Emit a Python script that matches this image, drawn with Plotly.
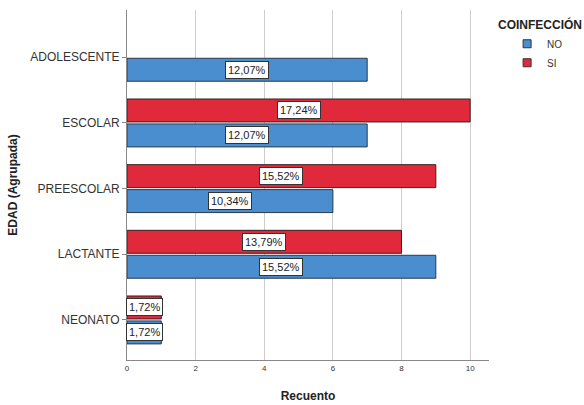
import plotly.graph_objects as go

# Age groups (bottom to top on the axis) and counts per coinfection status
categories = ["NEONATO", "LACTANTE", "PREESCOLAR", "ESCOLAR", "ADOLESCENTE"]
no_counts = [1, 9, 6, 7, 7]
si_counts = [1, 8, 9, 10, None]
no_labels = ["1,72%", "15,52%", "10,34%", "12,07%", "12,07%"]
si_labels = ["1,72%", "13,79%", "15,52%", "17,24%", None]
x_ticks = [0, 2, 4, 6, 8, 10]

BLUE = "#4a8ed0"
RED = "#e02a3b"
FONT = "Liberation Sans, Arial, sans-serif"

fig = go.Figure()
fig.add_trace(go.Bar(
    y=categories, x=no_counts, name="NO", orientation="h", showlegend=False,
    marker=dict(color=BLUE, line=dict(color="#2b3a4a", width=1)),
))
fig.add_trace(go.Bar(
    y=categories, x=si_counts, name="SI", orientation="h", showlegend=False,
    marker=dict(color=RED, line=dict(color="#3a2020", width=1)),
))

# Small square swatches for the legend
for name, col in (("NO", BLUE), ("SI", RED)):
    fig.add_trace(go.Scatter(
        x=[None], y=[None], mode="markers", name=name,
        marker=dict(symbol="square", size=8, color=col, line=dict(color="#333333", width=1)),
    ))

# Boxed percentage labels centred on each bar
annotations = []
for counts, labels, shift in ((no_counts, no_labels, -12.5), (si_counts, si_labels, 12.5)):
    for cat, v, lab in zip(categories, counts, labels):
        if v is None:
            continue
        annotations.append(dict(
            x=v / 2, y=cat, xref="x", yref="y", text=lab, showarrow=False,
            yshift=shift, bgcolor="white", bordercolor="#333333", borderwidth=1,
            borderpad=2, font=dict(family=FONT, size=11, color="#222222"),
        ))

annotations.append(dict(
    x=1.0, y=1.0, xref="paper", yref="paper", xanchor="right", yanchor="top",
    xshift=95, yshift=-5, text="<b>COINFECCIÓN</b>", showarrow=False,
    font=dict(family=FONT, size=12, color="#222222"),
))

fig.update_layout(
    width=584, height=405,
    margin=dict(l=127, r=95, t=10, b=45, autoexpand=False),
    paper_bgcolor="white", plot_bgcolor="white",
    barmode="group", bargap=0.24, bargroupgap=0.08,
    font=dict(family=FONT, color="#222222"),
    annotations=annotations,
    showlegend=True,
    legend=dict(
        x=1.05, xanchor="left", y=0.945, yanchor="top",
        traceorder="normal", font=dict(size=10, color="#333333"),
        itemwidth=30, tracegroupgap=0, bgcolor="rgba(0,0,0,0)",
    ),
    xaxis=dict(
        range=[0, 10.55], tickvals=x_ticks, showgrid=True, gridcolor="#cccccc",
        gridwidth=1, zeroline=False, showline=True, linecolor="#888888",
        tickfont=dict(size=8, color="#333333"),
        title=dict(text="<b>Recuento</b>", font=dict(size=12, color="#222222"), standoff=20),
    ),
    yaxis=dict(
        categoryorder="array", categoryarray=categories,
        range=[-0.61, 4.72], showgrid=False, zeroline=False, showline=True,
        linecolor="#888888", ticks="outside", ticklen=4, tickcolor="#888888",
        tickfont=dict(size=12, color="#333333"),
        title=dict(text="<b>EDAD (Agrupada)</b>", font=dict(size=12, color="#222222"), standoff=10),
    ),
)

fig.write_html("out.html")
